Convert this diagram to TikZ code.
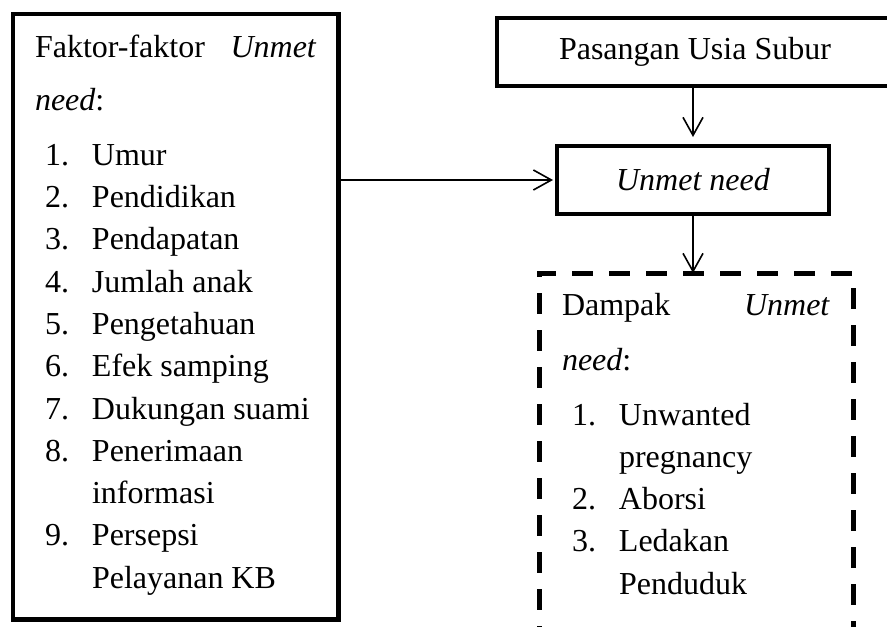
\documentclass[tikz,border=0pt]{standalone}
\usepackage{fontspec}
\setmainfont{Liberation Serif}
\usetikzlibrary{arrows.meta}
\newcommand\numitem[2]{\hspace*{5pt}\makebox[23.5pt][l]{#1.}#2}
\newcommand\numcont[1]{\hspace*{28.5pt}#1}
\tikzset{
  solidbox/.style={draw, line width=2.2pt, outer sep=0, inner sep=0, align=center},
  listbox/.style={draw, line width=2.2pt, outer sep=0, anchor=north west},
  dashbox/.style={listbox, line width=2.5pt, dash pattern=on 10.5pt off 8pt},
  flow/.style={line width=0.8pt, -{Straight Barb[length=9pt,width=10pt]}}
}

\begin{document}
\begin{tikzpicture}[x=0.5pt, y=-0.5pt, every node/.style={font=\fontsize{16}{21.15}\selectfont}]
\useasboundingbox (0,0) rectangle (887,626);
% Faktor
\node[listbox, inner xsep=11pt, inner ysep=6.8pt] (faktor) at (13,14) {\parbox[c][289.15pt][t]{140.75pt}{\strut Faktor-faktor\hfill\textit{Unmet}\\[5.35pt]
  \textit{need}:\\[6.35pt]
  \numitem{1}{Umur}\\
  \numitem{2}{Pendidikan}\\
  \numitem{3}{Pendapatan}\\
  \numitem{4}{Jumlah anak}\\
  \numitem{5}{Pengetahuan}\\
  \numitem{6}{Efek samping}\\
  \numitem{7}{Dukungan suami}\\
  \numitem{8}{Penerimaan}\\
  \numcont{informasi}\\
  \numitem{9}{Persepsi}\\
  \numcont{Pelayanan KB}}};
% PUS
\node[solidbox, minimum width=198pt, minimum height=34pt] (pus) at (695,52) {Pasangan Usia Subur};
% Unmet need
\node[solidbox, minimum width=136pt, minimum height=34pt] (unmet) at (693,180) {\textit{Unmet need}};
% Dampak
\node[dashbox, inner xsep=11.5pt, inner ysep=6.2pt] (dampak) at (539,273) {\parbox[c][200pt][t]{134pt}{\strut Dampak\hfill\textit{Unmet}\\[6.35pt]
  \textit{need}:\\[6.35pt]
  \numitem{1}{Unwanted}\\
  \numcont{pregnancy}\\
  \numitem{2}{Aborsi}\\
  \numitem{3}{Ledakan}\\
  \numcont{Penduduk}}};
% Arrows
\draw[flow, shorten >=4.5pt] (pus.south -| unmet.north) -- (unmet.north);
\draw[flow] (unmet.south) -- (unmet.south |- dampak.north);
\draw[flow, shorten >=2pt] (faktor.east |- unmet.west) -- (unmet.west);
\end{tikzpicture}
\end{document}
